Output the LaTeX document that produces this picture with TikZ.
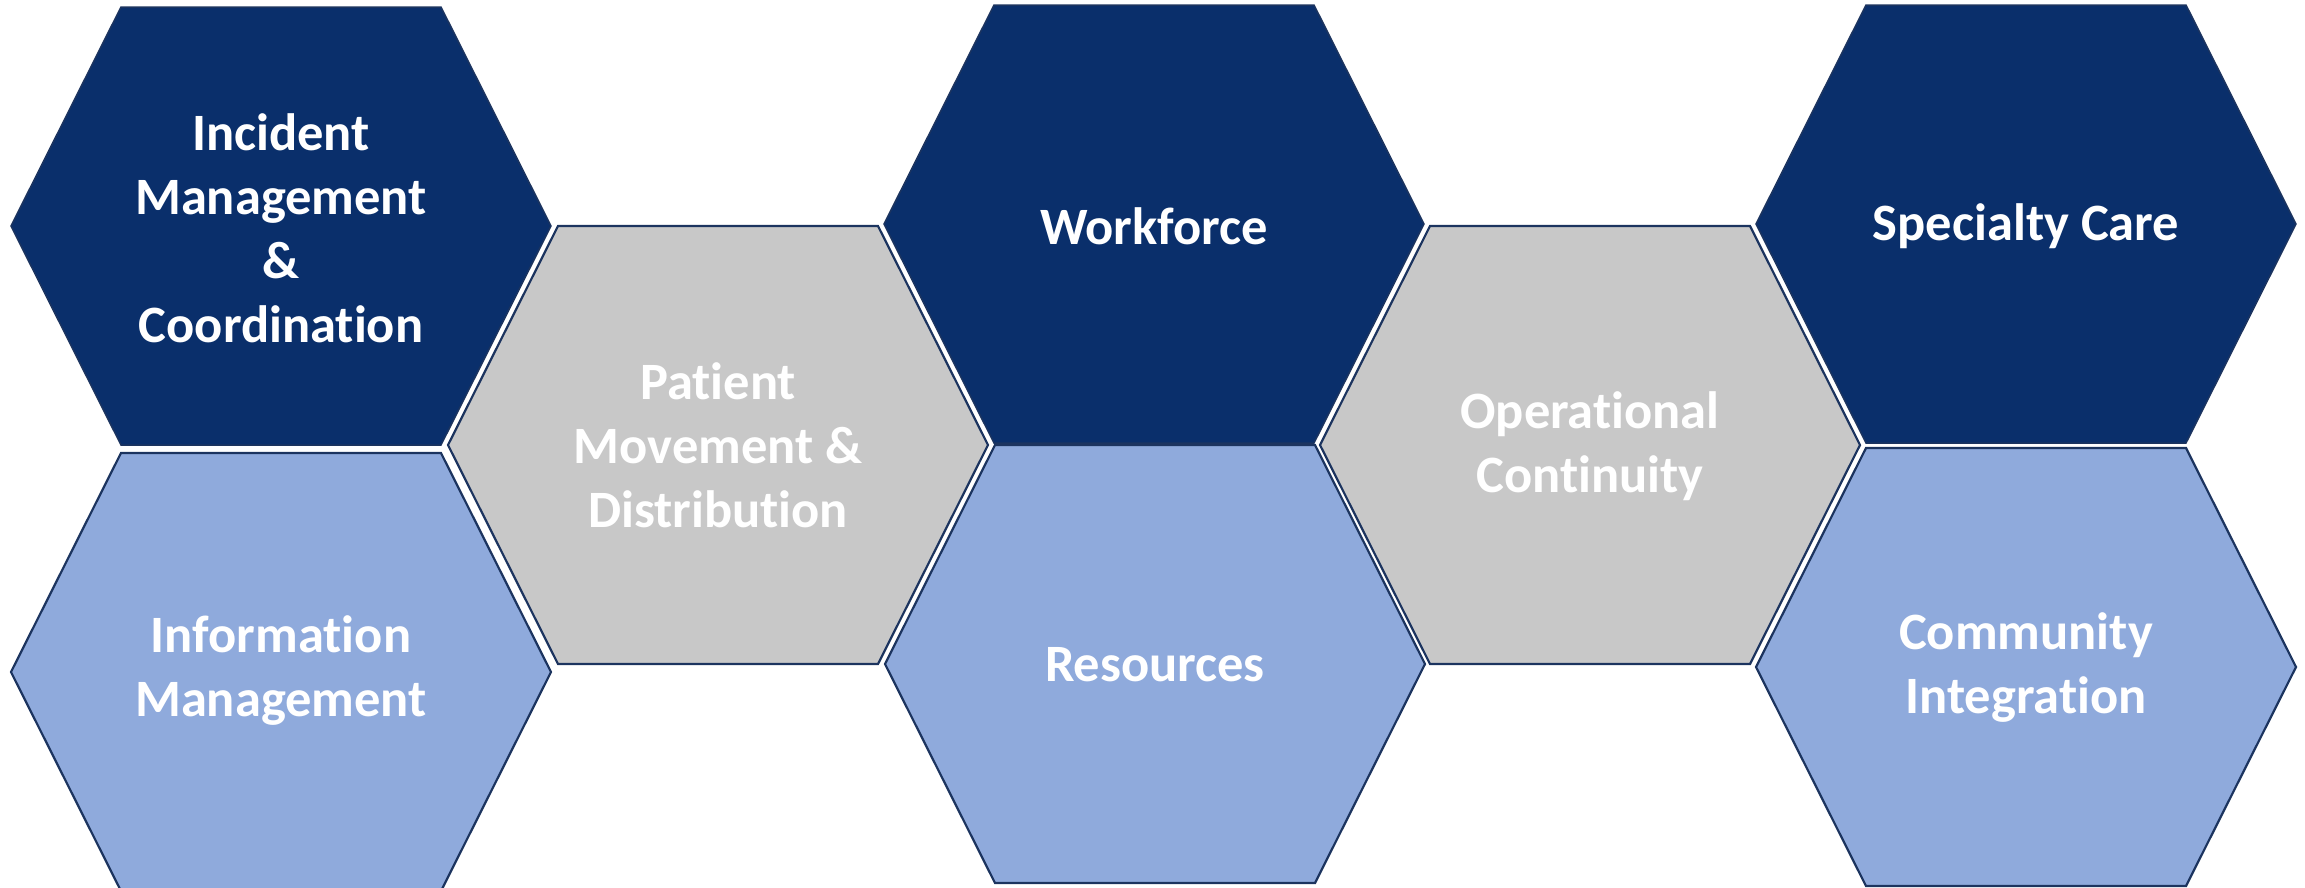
\documentclass[tikz,border=0pt]{standalone}
\usepackage{fontspec}
\setmainfont{Carlito}[Ligatures=NoCommon]
\definecolor{navy}{HTML}{0A2F6B}
\definecolor{lightblue}{HTML}{8FAADC}
\definecolor{midgray}{HTML}{C8C8C8}
\definecolor{edgeline}{HTML}{1C345F}
\tikzset{
  hexdark/.style={fill=navy, draw=edgeline, line width=1.5pt, line join=miter},
  hexlight/.style={fill=lightblue, draw=edgeline, line width=2.2pt, line join=miter},
  hexgray/.style={fill=midgray, draw=edgeline, line width=2.2pt, line join=miter},
  hexlabel/.style={text=white, font=\fontsize{52.5}{64}\selectfont\bfseries, align=center, inner sep=0pt},
}
\newcommand\drawhexagon[3]{%
  \path[#1] ({#2-270},{#3}) -- ({#2-160},{#3-219}) -- ({#2+160},{#3-219}) -- ({#2+270},{#3})
    -- ({#2+160},{#3+219}) -- ({#2-160},{#3+219}) -- cycle;
}
\begin{document}
\begin{tikzpicture}[x=1pt,y=-1pt]
\useasboundingbox (0,0) rectangle (2305,887);
\clip (0,0) rectangle (2305,887);
% column 1
\drawhexagon{hexdark}{281}{226}
\node[hexlabel] (incident) at (281,228) {Incident\\Management\\\&\\Coordination};
\drawhexagon{hexlight}{281}{672}
\node[hexlabel] (information) at (281,671) {Information\\Management};
% column 2
\drawhexagon{hexgray}{718}{445}
\node[hexlabel] (patient) at (718,445) {Patient\\Movement \&\\Distribution};
% column 3
\drawhexagon{hexdark}{1154}{224}
\node[hexlabel] (workforce) at (1154,226) {Workforce};
\drawhexagon{hexlight}{1155}{664}
\node[hexlabel] (resources) at (1155,665) {Resources};
% column 4
\drawhexagon{hexgray}{1590}{445}
\node[hexlabel] (operational) at (1590,446) {Operational\\Continuity};
% column 5
\drawhexagon{hexdark}{2026}{224}
\node[hexlabel] (specialty) at (2026,226) {Specialty Care};
\drawhexagon{hexlight}{2026}{667}
\node[hexlabel] (community) at (2026,668) {Community\\Integration};
\end{tikzpicture}
\end{document}
